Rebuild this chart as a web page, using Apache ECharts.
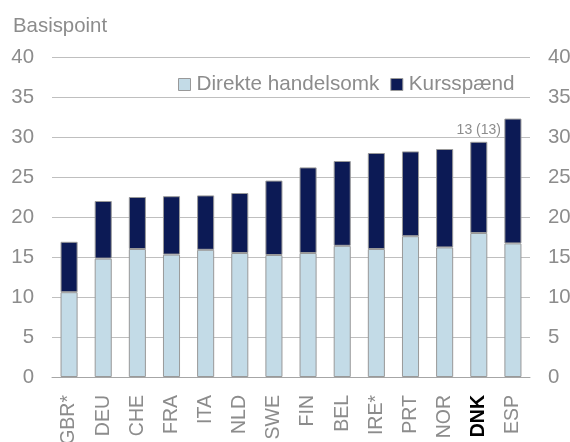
<!DOCTYPE html>
<html>
<head>
<meta charset="utf-8">
<script src="https://cdn.jsdelivr.net/npm/echarts@6/dist/echarts.min.js"></script>
<style>
  html, body { margin: 0; padding: 0; background: #fff; }
  #myChart { width: 570px; height: 442px; }
</style>
</head>
<body>
<div id="myChart"></div>
<script>
var countries = ['GBR*', 'DEU', 'CHE', 'FRA', 'ITA', 'NLD', 'SWE', 'FIN', 'BEL', 'IRE*', 'PRT', 'NOR', 'DNK', 'ESP'];
var direkte = [10.6, 14.8, 16.0, 15.3, 15.9, 15.5, 15.25, 15.5, 16.4, 16.0, 17.6, 16.2, 18.0, 16.7];
var kursspaend = [6.3, 7.2, 6.5, 7.3, 6.8, 7.5, 9.3, 10.7, 10.6, 12.0, 10.6, 12.3, 11.4, 15.6];
var yTicks = { min: 0, max: 40, interval: 5 };
var noteCountry = 'DNK';
var noteText = '13 (13)';

window.onload = function () {
    var myChart = echarts.init(document.getElementById('myChart'));
    var grey = '#8c8c8c';
    var font = 'Liberation Sans, Arial, sans-serif';

    var catData = countries.map(function (c) {
        if (c == noteCountry)
            return { value: c, textStyle: { color: '#000', fontWeight: 'bold' } };
        return c;
    });
    var kursData = kursspaend.map(function (v, i) {
        if (countries[i] == noteCountry)
            return {
                value: v,
                label: { show: true, position: 'top', distance: 5, formatter: noteText, color: grey, fontSize: 14, fontFamily: font }
            };
        return v;
    });

    var yAxisBase = {
        type: 'value',
        min: yTicks.min,
        max: yTicks.max,
        interval: yTicks.interval,
        axisLine: { show: false },
        axisTick: { show: false },
        axisLabel: { color: grey, fontSize: 20.4, fontFamily: font, margin: 18 }
    };

    var option = {
        animation: false,
        textStyle: { fontFamily: font },
        title: {
            text: 'Basispoint',
            left: 8,
            top: 11,
            textStyle: { color: grey, fontSize: 20.4, fontWeight: 'normal', fontFamily: font }
        },
        legend: {
            left: 173,
            top: 69,
            itemWidth: 12,
            itemHeight: 12,
            itemGap: 11,
            icon: 'rect',
            itemStyle: { borderColor: '#999999', borderWidth: 1 },
            textStyle: { color: grey, fontSize: 20.7, fontFamily: font, padding: [0, 0, 0, 1] },
            data: ['Direkte handelsomk', 'Kursspænd']
        },
        grid: { left: 52, right: 40, top: 57, bottom: 65, containLabel: false, outerBoundsMode: 'none' },
        xAxis: {
            type: 'category',
            data: catData,
            axisLine: { lineStyle: { color: '#a6a6a6' } },
            axisTick: { length: 6, lineStyle: { color: '#a6a6a6' } },
            axisLabel: { rotate: 90, color: grey, fontSize: 19.5, fontFamily: font, margin: 18, interval: 0 }
        },
        yAxis: [
            Object.assign({}, yAxisBase, {
                splitLine: { lineStyle: { color: '#bfbfbf', width: 1 } }
            }),
            Object.assign({}, yAxisBase, {
                position: 'right',
                splitLine: { show: false }
            })
        ],
        series: [
            {
                name: 'Direkte handelsomk',
                type: 'bar',
                stack: 'total',
                barWidth: '50%',
                data: direkte,
                itemStyle: { color: '#c3dbe7', borderColor: '#999999', borderWidth: 1 }
            },
            {
                name: 'Kursspænd',
                type: 'bar',
                stack: 'total',
                barWidth: '50%',
                data: kursData,
                itemStyle: { color: '#0c1a55', borderColor: '#999999', borderWidth: 1 }
            }
        ]
    };
    myChart.setOption(option);
};
</script>
</body>
</html>
